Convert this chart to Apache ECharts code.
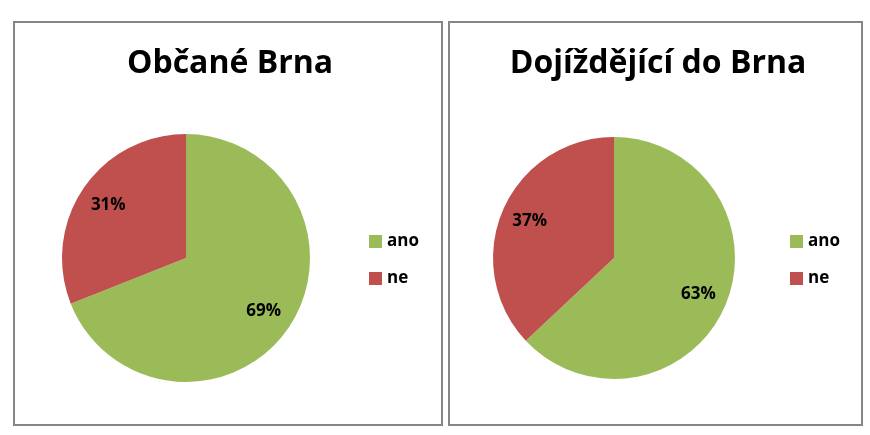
<!DOCTYPE html>
<html><head><meta charset="utf-8">
<script src="https://cdn.jsdelivr.net/npm/echarts@6/dist/echarts.min.js"></script>
<style>html,body{margin:0;padding:0;background:#fff}#c{width:870px;height:435px}</style>
</head><body><div id="c"></div>
<script>
const titles = ['Občané Brna', 'Dojíždějící do Brna'];
const categories = ['ano', 'ne'];
const valuesBrno = [69, 31];
const valuesCommuters = [63, 37];
const colors = ['#9BBB59', '#C0504D'];

const FONT = '"Open Sans", "Noto Sans", sans-serif';
const chart = echarts.init(document.getElementById('c'));

function mk(vals) { return categories.map((n, i) => ({ name: n, value: vals[i] })); }

const panels = [
  { vals: valuesBrno, center: [186, 258], r: 124, titleX: 225, legendX: 364 },
  { vals: valuesCommuters, center: [614, 258], r: 121, titleX: 653, legendX: 785 }
];

const series = [];
panels.forEach(p => {
  series.push({
    type: 'pie', center: p.center, radius: [0, p.r], startAngle: 90, clockwise: true,
    data: mk(p.vals), label: { show: false }, labelLine: { show: false },
    itemStyle: { borderWidth: 0 }, emphasis: { disabled: true }, animation: false
  });
  series.push({
    type: 'pie', center: p.center, radius: [Math.round(p.r * 0.47), p.r], startAngle: 90, clockwise: true,
    data: mk(p.vals), silent: true, emphasis: { disabled: true }, animation: false,
    itemStyle: { color: 'transparent', borderWidth: 0 },
    label: { show: true, position: 'inside', formatter: '{c}%', color: '#000', fontSize: 17, fontWeight: 'bold', fontFamily: FONT },
    labelLine: { show: false }
  });
});

chart.setOption({
  animation: false,
  color: colors,
  title: panels.map((p, i) => ({
    text: titles[i], left: p.titleX, top: 43, textAlign: 'center',
    textStyle: { fontSize: 32, fontWeight: 'bold', color: '#000', fontFamily: FONT }
  })),
  legend: panels.map(p => ({
    data: categories, orient: 'vertical', left: p.legendX, top: 228, itemGap: 20,
    itemWidth: 13, itemHeight: 13, icon: 'rect',
    textStyle: { fontSize: 17, fontWeight: 'bold', color: '#000', fontFamily: FONT }
  })),
  graphic: [
    { type: 'rect', shape: { x: 14, y: 22, width: 428, height: 403 }, style: { fill: 'none', stroke: '#868686', lineWidth: 2 } },
    { type: 'rect', shape: { x: 449, y: 22, width: 413, height: 403 }, style: { fill: 'none', stroke: '#868686', lineWidth: 2 } }
  ],
  series: series
});
</script></body></html>
